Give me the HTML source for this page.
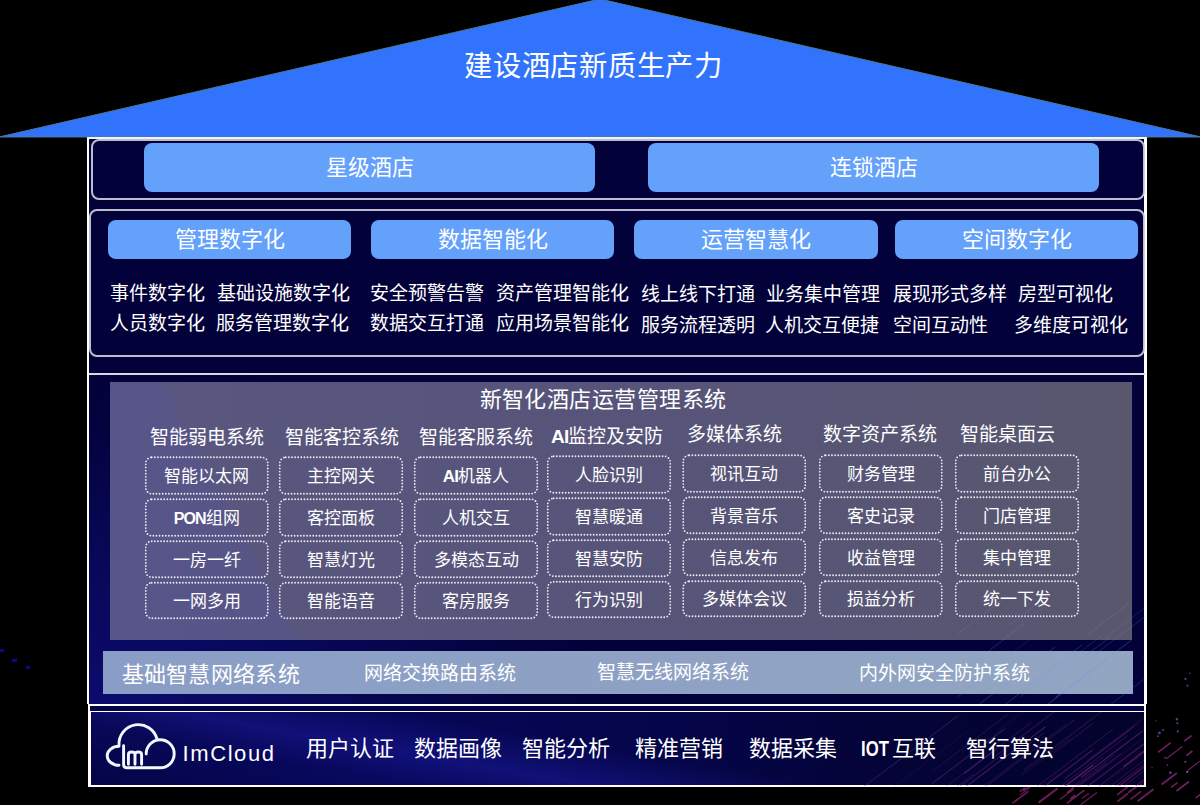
<!DOCTYPE html>
<html lang="zh-CN">
<head>
<meta charset="utf-8">
<style>
*{margin:0;padding:0;box-sizing:border-box}
html,body{width:1200px;height:805px;overflow:hidden;background:#000}
body{position:relative;font-family:"Liberation Sans",sans-serif;color:#fff;font-weight:300}
.a{position:absolute}
.t{position:absolute;white-space:nowrap;line-height:1}
.btn{position:absolute;background:#63a1fb;border-radius:8px;color:#fff;font-size:22px;text-align:center}
.box{position:absolute;border:2px solid rgba(205,205,220,0.92);border-radius:8px}
.dt{position:absolute;font-size:17px;text-align:center;line-height:19px;white-space:nowrap}
.hd{position:absolute;font-size:19px;white-space:nowrap;line-height:1}
.it{position:absolute;font-size:19px;white-space:nowrap;line-height:1}
</style>
</head>
<body>
<!-- roof -->
<svg class="a" style="left:0;top:0" width="1200" height="140">
<polygon points="-1,137 600,-1 1201,137" fill="#3173fd" stroke="#4a7a98" stroke-width="1"/>
</svg>
<div class="t" style="left:464px;top:52px;font-size:28.3px;letter-spacing:0.75px">建设酒店新质生产力</div>

<!-- main body -->
<div class="a" style="left:87px;top:137px;width:3px;height:567px;background:#fff"></div>
<div class="a" style="left:89px;top:138px;width:1056px;height:567px;background:#020139"></div>
<div class="a" style="left:89px;top:375px;width:1056px;height:330px;background:radial-gradient(ellipse 600px 380px at 0% 100%,rgba(12,12,112,0.95) 0%,rgba(10,10,100,0.7) 40%,rgba(6,6,70,0.3) 75%,rgba(3,2,50,0) 100%)"></div>
<div class="a" style="left:1144px;top:137px;width:2.5px;height:567px;background:#fff"></div>

<div class="a" style="left:87px;top:137px;width:1060px;height:2px;background:#f4f4f8"></div>
<!-- section 1 -->
<div class="box" style="left:91px;top:139px;width:1054px;height:61px"></div>
<div class="btn" style="left:144px;top:143px;width:451px;height:49px;line-height:49px">星级酒店</div>
<div class="btn" style="left:648px;top:143px;width:451px;height:49px;line-height:49px">连锁酒店</div>

<!-- section 2 -->
<div class="box" style="left:89px;top:209px;width:1056px;height:148px"></div>
<div class="btn" style="left:108px;top:220px;width:243px;height:39px;line-height:39px">管理数字化</div>
<div class="btn" style="left:371px;top:220px;width:243px;height:39px;line-height:39px">数据智能化</div>
<div class="btn" style="left:634px;top:220px;width:244px;height:39px;line-height:39px">运营智慧化</div>
<div class="btn" style="left:895px;top:220px;width:243px;height:39px;line-height:39px">空间数字化</div>

<div class="it" style="left:110px;top:284px">事件数字化</div>
<div class="it" style="left:217px;top:284px">基础设施数字化</div>
<div class="it" style="left:370px;top:284px">安全预警告警</div>
<div class="it" style="left:496px;top:284px">资产管理智能化</div>
<div class="it" style="left:641px;top:285px">线上线下打通</div>
<div class="it" style="left:766px;top:285px">业务集中管理</div>
<div class="it" style="left:893px;top:285px">展现形式多样</div>
<div class="it" style="left:1018px;top:285px">房型可视化</div>

<div class="it" style="left:110px;top:314px">人员数字化</div>
<div class="it" style="left:216px;top:314px">服务管理数字化</div>
<div class="it" style="left:370px;top:314px">数据交互打通</div>
<div class="it" style="left:496px;top:314px">应用场景智能化</div>
<div class="it" style="left:641px;top:316px">服务流程透明</div>
<div class="it" style="left:765px;top:316px">人机交互便捷</div>
<div class="it" style="left:893px;top:316px">空间互动性</div>
<div class="it" style="left:1014px;top:316px">多维度可视化</div>

<!-- section 3 -->
<div class="a" style="left:89px;top:373px;width:1056px;height:2px;background:#d8d8e0"></div>
<div class="a" style="left:110px;top:382px;width:1022px;height:258px;background:linear-gradient(90deg,#5a5780 0%,#57547a 50%,#58576e 100%)"></div>
<div class="a" style="left:110px;top:382px;width:1022px;height:258px;background:linear-gradient(62deg,rgba(70,70,210,0.10) 0%,rgba(70,70,210,0.10) 16%,rgba(70,70,210,0) 16.5%)"></div>
<div class="t" style="left:479.5px;top:389px;font-size:22px;letter-spacing:0.45px">新智化酒店运营管理系统</div>

<!-- base network -->
<div class="a" style="left:103px;top:651px;width:1030px;height:43px;background:linear-gradient(90deg,#8a9dc6,#8fa2c4 60%,#92a6c2)"></div>

<div class="hd" style="left:150px;top:428px">智能弱电系统</div>
<div class="dt" style="left:145px;top:467.0px;width:123.5px">智能以太网</div>
<div class="dt" style="left:145px;top:509.0px;width:123.5px"><b style="font-weight:700;font-size:16px;letter-spacing:-0.9px">PON</b>组网</div>
<div class="dt" style="left:145px;top:550.8px;width:123.5px">一房一纤</div>
<div class="dt" style="left:145px;top:592.0px;width:123.5px">一网多用</div>
<div class="hd" style="left:285px;top:428px">智能客控系统</div>
<div class="dt" style="left:279px;top:467.0px;width:124px">主控网关</div>
<div class="dt" style="left:279px;top:509.0px;width:124px">客控面板</div>
<div class="dt" style="left:279px;top:550.8px;width:124px">智慧灯光</div>
<div class="dt" style="left:279px;top:592.0px;width:124px">智能语音</div>
<div class="hd" style="left:419px;top:428px">智能客服系统</div>
<div class="dt" style="left:414px;top:467.0px;width:124px"><b style="font-weight:700;letter-spacing:-0.8px">AI</b>机器人</div>
<div class="dt" style="left:414px;top:509.0px;width:124px">人机交互</div>
<div class="dt" style="left:414px;top:550.8px;width:124px">多模态互动</div>
<div class="dt" style="left:414px;top:592.0px;width:124px">客房服务</div>
<div class="hd" style="left:551px;top:426.5px"><b style="font-weight:700;letter-spacing:-0.8px">AI</b>监控及安防</div>
<div class="dt" style="left:547px;top:466.0px;width:124px">人脸识别</div>
<div class="dt" style="left:547px;top:508.0px;width:124px">智慧暖通</div>
<div class="dt" style="left:547px;top:549.8px;width:124px">智慧安防</div>
<div class="dt" style="left:547px;top:591.0px;width:124px">行为识别</div>
<div class="hd" style="left:687px;top:425px">多媒体系统</div>
<div class="dt" style="left:682.5px;top:465.0px;width:123.5px">视讯互动</div>
<div class="dt" style="left:682.5px;top:506.8px;width:123.5px">背景音乐</div>
<div class="dt" style="left:682.5px;top:548.8px;width:123.5px">信息发布</div>
<div class="dt" style="left:682.5px;top:590.2px;width:123.5px">多媒体会议</div>
<div class="hd" style="left:823px;top:425px">数字资产系统</div>
<div class="dt" style="left:819px;top:465.0px;width:123.5px">财务管理</div>
<div class="dt" style="left:819px;top:506.8px;width:123.5px">客史记录</div>
<div class="dt" style="left:819px;top:548.8px;width:123.5px">收益管理</div>
<div class="dt" style="left:819px;top:590.2px;width:123.5px">损益分析</div>
<div class="hd" style="left:960px;top:425px">智能桌面云</div>
<div class="dt" style="left:955px;top:465.0px;width:124px">前台办公</div>
<div class="dt" style="left:955px;top:506.8px;width:124px">门店管理</div>
<div class="dt" style="left:955px;top:548.8px;width:124px">集中管理</div>
<div class="dt" style="left:955px;top:590.2px;width:124px">统一下发</div>
<svg class="a" style="left:0;top:0" width="1200" height="805" fill="none" stroke="#ececf4" stroke-width="1.8" stroke-dasharray="0.01 3.1" stroke-linecap="round">
<rect x="145.75" y="457.25" width="122.0" height="36.5" rx="6"/>
<rect x="145.75" y="499.25" width="122.0" height="36.5" rx="6"/>
<rect x="145.75" y="541.25" width="122.0" height="36.0" rx="6"/>
<rect x="145.75" y="582.75" width="122.0" height="35.5" rx="6"/>
<rect x="279.75" y="457.25" width="122.5" height="36.5" rx="6"/>
<rect x="279.75" y="499.25" width="122.5" height="36.5" rx="6"/>
<rect x="279.75" y="541.25" width="122.5" height="36.0" rx="6"/>
<rect x="279.75" y="582.75" width="122.5" height="35.5" rx="6"/>
<rect x="414.75" y="457.25" width="122.5" height="36.5" rx="6"/>
<rect x="414.75" y="499.25" width="122.5" height="36.5" rx="6"/>
<rect x="414.75" y="541.25" width="122.5" height="36.0" rx="6"/>
<rect x="414.75" y="582.75" width="122.5" height="35.5" rx="6"/>
<rect x="547.75" y="456.25" width="122.5" height="36.5" rx="6"/>
<rect x="547.75" y="498.25" width="122.5" height="36.5" rx="6"/>
<rect x="547.75" y="540.25" width="122.5" height="36.0" rx="6"/>
<rect x="547.75" y="581.75" width="122.5" height="35.5" rx="6"/>
<rect x="683.25" y="455.25" width="122.0" height="36.5" rx="6"/>
<rect x="683.25" y="497.25" width="122.0" height="36.0" rx="6"/>
<rect x="683.25" y="539.25" width="122.0" height="36.0" rx="6"/>
<rect x="683.25" y="581.25" width="122.0" height="35.0" rx="6"/>
<rect x="819.75" y="455.25" width="122.0" height="36.5" rx="6"/>
<rect x="819.75" y="497.25" width="122.0" height="36.0" rx="6"/>
<rect x="819.75" y="539.25" width="122.0" height="36.0" rx="6"/>
<rect x="819.75" y="581.25" width="122.0" height="35.0" rx="6"/>
<rect x="955.75" y="455.25" width="122.5" height="36.5" rx="6"/>
<rect x="955.75" y="497.25" width="122.5" height="36.0" rx="6"/>
<rect x="955.75" y="539.25" width="122.5" height="36.0" rx="6"/>
<rect x="955.75" y="581.25" width="122.5" height="35.0" rx="6"/>
</svg>
<div class="t" style="left:121.5px;top:664px;font-size:22px;letter-spacing:0.3px">基础智慧网络系统</div>
<div class="t" style="left:364px;top:664px;font-size:19px">网络交换路由系统</div>
<div class="t" style="left:597px;top:663px;font-size:19px">智慧无线网络系统</div>
<div class="t" style="left:859px;top:664px;font-size:19px">内外网安全防护系统</div>

<!-- bottom section -->
<div class="a" style="left:88px;top:704px;width:1058px;height:83px;background:#fff"></div>
<div class="a" style="left:90px;top:705.5px;width:1054px;height:5.5px;background:#04044a"></div>
<div class="a" style="left:91px;top:712px;width:1053px;height:73px;background:linear-gradient(190deg,rgba(0,0,0,0) 50%,rgba(40,40,200,0.32) 66%,rgba(20,20,150,0.15) 78%,rgba(0,0,0,0) 95%),linear-gradient(90deg,#05054a 0%,#060656 30%,#05054a 55%,#040438 75%,#03032c 100%)"></div>
<svg class="a" style="left:0;top:0" width="1200" height="805">
<defs><clipPath id="cb"><rect x="91" y="712" width="1053" height="74"/></clipPath><clipPath id="cu"><rect x="89" y="600" width="1056" height="104"/></clipPath><clipPath id="co"><path d="M0,0H1200V805H0Z M87,0H1147V787H87Z" clip-rule="evenodd"/></clipPath></defs>
<g clip-path="url(#cb)">
<line x1="1022.3" y1="815.0" x2="1127.4" y2="735.8" stroke="rgb(149,42,135)" stroke-width="0.83" opacity="0.40"/>
<line x1="1064.8" y1="778.7" x2="1133.7" y2="726.7" stroke="rgb(142,43,136)" stroke-width="0.94" opacity="0.52"/>
<line x1="963.8" y1="773.7" x2="995.7" y2="749.6" stroke="rgb(117,45,141)" stroke-width="1.07" opacity="0.48"/>
<line x1="898.9" y1="832.4" x2="1007.6" y2="750.5" stroke="rgb(127,44,139)" stroke-width="0.96" opacity="0.45"/>
<line x1="968.0" y1="753.4" x2="1038.4" y2="700.4" stroke="rgb(104,46,143)" stroke-width="0.54" opacity="0.28"/>
<line x1="995.5" y1="756.1" x2="1060.2" y2="707.3" stroke="rgb(113,46,142)" stroke-width="0.81" opacity="0.54"/>
<line x1="1053.4" y1="804.5" x2="1121.3" y2="753.4" stroke="rgb(154,42,134)" stroke-width="0.96" opacity="0.38"/>
<line x1="981.4" y1="833.9" x2="1092.8" y2="749.9" stroke="rgb(148,42,135)" stroke-width="1.09" opacity="0.48"/>
<line x1="1021.3" y1="775.0" x2="1070.7" y2="737.8" stroke="rgb(131,44,138)" stroke-width="0.55" opacity="0.51"/>
<line x1="1035.6" y1="808.7" x2="1093.5" y2="765.0" stroke="rgb(152,42,134)" stroke-width="1.17" opacity="0.54"/>
<line x1="854.1" y1="794.0" x2="958.0" y2="715.7" stroke="rgb(95,47,145)" stroke-width="0.83" opacity="0.59"/>
<line x1="1024.3" y1="769.9" x2="1103.5" y2="710.2" stroke="rgb(127,44,139)" stroke-width="1.04" opacity="0.31"/>
<line x1="922.4" y1="804.4" x2="1031.1" y2="722.6" stroke="rgb(117,45,141)" stroke-width="1.03" opacity="0.25"/>
<line x1="1014.4" y1="755.0" x2="1043.7" y2="733.0" stroke="rgb(120,45,140)" stroke-width="1.06" opacity="0.27"/>
<line x1="1074.1" y1="785.3" x2="1114.8" y2="754.7" stroke="rgb(151,42,135)" stroke-width="1.01" opacity="0.25"/>
<line x1="1078.1" y1="768.8" x2="1139.1" y2="722.9" stroke="rgb(141,43,136)" stroke-width="0.65" opacity="0.31"/>
<line x1="1130.9" y1="804.4" x2="1181.5" y2="766.2" stroke="rgb(175,40,130)" stroke-width="1.12" opacity="0.28"/>
<line x1="1023.1" y1="817.4" x2="1103.4" y2="756.8" stroke="rgb(152,42,134)" stroke-width="0.57" opacity="0.60"/>
<line x1="974.1" y1="793.2" x2="1066.0" y2="723.9" stroke="rgb(126,44,139)" stroke-width="0.73" opacity="0.32"/>
<line x1="932.9" y1="770.9" x2="1008.0" y2="714.2" stroke="rgb(104,46,143)" stroke-width="0.67" opacity="0.44"/>
<line x1="1004.4" y1="811.1" x2="1112.6" y2="729.5" stroke="rgb(142,43,136)" stroke-width="0.84" opacity="0.43"/>
<line x1="1123.3" y1="766.7" x2="1160.8" y2="738.4" stroke="rgb(153,42,134)" stroke-width="1.14" opacity="0.53"/>
<line x1="985.4" y1="786.7" x2="1074.3" y2="719.7" stroke="rgb(125,44,139)" stroke-width="1.16" opacity="0.28"/>
<line x1="1114.9" y1="817.1" x2="1191.9" y2="759.1" stroke="rgb(176,40,130)" stroke-width="0.80" opacity="0.24"/>
<line x1="928.7" y1="807.7" x2="973.6" y2="773.9" stroke="rgb(126,44,139)" stroke-width="0.99" opacity="0.30"/>
<line x1="1111.1" y1="795.8" x2="1160.8" y2="758.3" stroke="rgb(165,41,132)" stroke-width="0.62" opacity="0.49"/>
<line x1="931.6" y1="783.9" x2="1004.7" y2="728.8" stroke="rgb(111,46,142)" stroke-width="1.10" opacity="0.45"/>
<line x1="1016.7" y1="805.1" x2="1058.6" y2="773.5" stroke="rgb(147,42,135)" stroke-width="0.51" opacity="0.31"/>
<line x1="1053.9" y1="752.9" x2="1093.3" y2="723.2" stroke="rgb(128,44,139)" stroke-width="0.76" opacity="0.43"/>
<line x1="943.2" y1="803.8" x2="1045.4" y2="726.8" stroke="rgb(123,45,140)" stroke-width="1.19" opacity="0.46"/>
<line x1="1098.0" y1="790.2" x2="1134.3" y2="762.9" stroke="rgb(160,41,133)" stroke-width="0.52" opacity="0.21"/>
<line x1="1093.8" y1="822.3" x2="1202.3" y2="740.5" stroke="rgb(171,40,131)" stroke-width="0.51" opacity="0.45"/>
<line x1="1054.6" y1="802.1" x2="1106.5" y2="763.0" stroke="rgb(154,42,134)" stroke-width="1.20" opacity="0.23"/>
<line x1="1040.6" y1="821.6" x2="1143.7" y2="744.0" stroke="rgb(157,42,134)" stroke-width="1.02" opacity="0.48"/>
<line x1="1104.1" y1="809.9" x2="1159.0" y2="768.5" stroke="rgb(171,40,131)" stroke-width="0.98" opacity="0.56"/>
<line x1="1096.0" y1="803.6" x2="1189.4" y2="733.2" stroke="rgb(162,41,133)" stroke-width="1.10" opacity="0.43"/>
<line x1="1068.0" y1="794.8" x2="1143.1" y2="738.1" stroke="rgb(152,42,135)" stroke-width="0.93" opacity="0.23"/>
<line x1="1057.3" y1="829.9" x2="1158.5" y2="753.6" stroke="rgb(166,41,132)" stroke-width="1.01" opacity="0.36"/>
<line x1="1091.6" y1="800.0" x2="1154.2" y2="752.8" stroke="rgb(161,41,133)" stroke-width="1.09" opacity="0.23"/>
<line x1="1086.8" y1="760.6" x2="1163.6" y2="702.7" stroke="rgb(137,43,137)" stroke-width="0.84" opacity="0.29"/>
<line x1="1078.3" y1="801.9" x2="1156.2" y2="743.1" stroke="rgb(158,41,133)" stroke-width="1.14" opacity="0.30"/>
<line x1="885.9" y1="793.0" x2="969.4" y2="730.0" stroke="rgb(104,46,143)" stroke-width="0.64" opacity="0.27"/>
<line x1="1116.0" y1="803.4" x2="1178.8" y2="756.1" stroke="rgb(170,40,131)" stroke-width="1.12" opacity="0.33"/>
<line x1="1081.3" y1="777.2" x2="1143.1" y2="730.6" stroke="rgb(146,43,136)" stroke-width="1.06" opacity="0.57"/>
<line x1="1106.3" y1="794.9" x2="1181.5" y2="738.2" stroke="rgb(161,41,133)" stroke-width="0.72" opacity="0.25"/>
</g>
<g clip-path="url(#cu)">
<line x1="1030.3" y1="717.4" x2="1108.5" y2="658.4" stroke="rgb(120,150,230)" stroke-width="0.86" opacity="0.39"/>
<line x1="1003.4" y1="637.6" x2="1056.2" y2="597.9" stroke="rgb(120,150,230)" stroke-width="0.64" opacity="0.20"/>
<line x1="1026.8" y1="686.6" x2="1082.3" y2="644.8" stroke="rgb(120,150,230)" stroke-width="0.66" opacity="0.36"/>
<line x1="1142.4" y1="658.3" x2="1171.1" y2="636.7" stroke="rgb(120,150,230)" stroke-width="0.52" opacity="0.37"/>
<line x1="957.3" y1="697.2" x2="1017.7" y2="651.6" stroke="rgb(120,150,230)" stroke-width="0.65" opacity="0.35"/>
<line x1="956.9" y1="634.2" x2="1009.9" y2="594.3" stroke="rgb(120,150,230)" stroke-width="0.51" opacity="0.36"/>
<line x1="1009.3" y1="624.9" x2="1036.2" y2="604.6" stroke="rgb(120,150,230)" stroke-width="0.81" opacity="0.26"/>
<line x1="1055.6" y1="697.2" x2="1131.2" y2="640.3" stroke="rgb(120,150,230)" stroke-width="0.98" opacity="0.32"/>
<line x1="998.2" y1="663.2" x2="1033.6" y2="636.6" stroke="rgb(120,150,230)" stroke-width="0.51" opacity="0.27"/>
<line x1="1087.9" y1="634.4" x2="1129.2" y2="603.2" stroke="rgb(120,150,230)" stroke-width="0.67" opacity="0.32"/>
<line x1="1037.5" y1="691.7" x2="1109.8" y2="637.3" stroke="rgb(120,150,230)" stroke-width="0.70" opacity="0.35"/>
<line x1="1101.4" y1="640.6" x2="1184.9" y2="577.7" stroke="rgb(120,150,230)" stroke-width="0.86" opacity="0.18"/>
<line x1="1020.6" y1="696.6" x2="1102.7" y2="634.8" stroke="rgb(120,150,230)" stroke-width="0.69" opacity="0.29"/>
<line x1="1096.1" y1="715.4" x2="1180.4" y2="651.9" stroke="rgb(120,150,230)" stroke-width="0.73" opacity="0.31"/>
<line x1="978.8" y1="704.5" x2="1055.0" y2="647.1" stroke="rgb(120,150,230)" stroke-width="0.82" opacity="0.33"/>
<line x1="975.1" y1="727.1" x2="1061.7" y2="661.9" stroke="rgb(120,150,230)" stroke-width="0.99" opacity="0.28"/>
<line x1="1081.3" y1="664.6" x2="1163.4" y2="602.7" stroke="rgb(120,150,230)" stroke-width="0.93" opacity="0.24"/>
<line x1="965.3" y1="668.6" x2="1024.5" y2="624.0" stroke="rgb(120,150,230)" stroke-width="0.88" opacity="0.27"/>
</g>
<g clip-path="url(#co)">
<rect x="1151.4" y="767.1" width="1.3" height="1.3" fill="rgb(94,61,184)" opacity="0.8"/>
<rect x="1166.8" y="764.5" width="1.4" height="1.4" fill="rgb(109,83,207)" opacity="0.8"/>
<rect x="1186.2" y="770.8" width="2.1" height="2.1" fill="rgb(153,87,210)" opacity="0.8"/>
<rect x="1184.5" y="760.9" width="1.8" height="1.8" fill="rgb(127,85,190)" opacity="0.8"/>
<rect x="1158.2" y="731.7" width="2.4" height="2.4" fill="rgb(122,69,192)" opacity="0.8"/>
<rect x="1169.1" y="771.4" width="2.4" height="2.4" fill="rgb(116,69,204)" opacity="0.8"/>
<rect x="1157.1" y="735.4" width="1.6" height="1.6" fill="rgb(153,62,176)" opacity="0.8"/>
<rect x="1176.8" y="730.4" width="2.0" height="2.0" fill="rgb(93,84,152)" opacity="0.8"/>
<rect x="1175.8" y="718.1" width="2.2" height="2.2" fill="rgb(105,81,155)" opacity="0.8"/>
<rect x="1184.5" y="677.9" width="1.9" height="1.9" fill="rgb(142,75,167)" opacity="0.8"/>
<rect x="1162.3" y="729.2" width="1.6" height="1.6" fill="rgb(150,83,170)" opacity="0.8"/>
<rect x="1155.4" y="720.3" width="1.2" height="1.2" fill="rgb(123,58,194)" opacity="0.8"/>
<rect x="1189.0" y="672.7" width="1.5" height="1.5" fill="rgb(119,50,193)" opacity="0.8"/>
<rect x="1164.2" y="756.8" width="1.5" height="1.5" fill="rgb(153,56,181)" opacity="0.8"/>
<rect x="1186.5" y="684.7" width="1.9" height="1.9" fill="rgb(122,62,194)" opacity="0.8"/>
<rect x="1176.5" y="722.4" width="1.7" height="1.7" fill="rgb(142,83,189)" opacity="0.8"/>
<line x1="1158.0" y1="752.3" x2="1170.8" y2="742.6" stroke="rgb(150,40,130)" stroke-width="1.6" opacity="0.75"/>
<line x1="1176.5" y1="791.1" x2="1189.1" y2="781.6" stroke="rgb(150,40,130)" stroke-width="1.9" opacity="0.75"/>
<line x1="1161.6" y1="784.4" x2="1176.8" y2="773.0" stroke="rgb(150,40,130)" stroke-width="1.9" opacity="0.75"/>
<line x1="1165.8" y1="758.9" x2="1182.4" y2="746.4" stroke="rgb(150,40,130)" stroke-width="1.2" opacity="0.75"/>
<line x1="1199.9" y1="793.3" x2="1206.4" y2="788.4" stroke="rgb(150,40,130)" stroke-width="1.2" opacity="0.75"/>
<line x1="1186.3" y1="755.6" x2="1192.4" y2="751.0" stroke="rgb(150,40,130)" stroke-width="1.8" opacity="0.75"/>
<line x1="1171.1" y1="787.4" x2="1177.5" y2="782.6" stroke="rgb(150,40,130)" stroke-width="1.4" opacity="0.75"/>
<line x1="1184.3" y1="741.1" x2="1191.6" y2="735.5" stroke="rgb(150,40,130)" stroke-width="1.7" opacity="0.75"/>
<line x1="1195.6" y1="798.1" x2="1201.8" y2="793.4" stroke="rgb(150,40,130)" stroke-width="1.5" opacity="0.75"/>
<line x1="1187.9" y1="770.2" x2="1201.5" y2="760.0" stroke="rgb(150,40,130)" stroke-width="1.2" opacity="0.75"/>
<line x1="1019.9" y1="791.6" x2="1025.2" y2="787.6" stroke="rgb(140,35,120)" stroke-width="1.7" opacity="0.75"/>
<line x1="1082.1" y1="798.5" x2="1089.0" y2="793.3" stroke="rgb(140,35,120)" stroke-width="1.2" opacity="0.75"/>
<line x1="1038.5" y1="802.6" x2="1057.6" y2="788.3" stroke="rgb(140,35,120)" stroke-width="2.1" opacity="0.75"/>
<line x1="1023.3" y1="790.9" x2="1041.8" y2="777.0" stroke="rgb(140,35,120)" stroke-width="1.6" opacity="0.75"/>
<line x1="1117.1" y1="794.9" x2="1128.6" y2="786.2" stroke="rgb(140,35,120)" stroke-width="1.6" opacity="0.75"/>
<line x1="1070.2" y1="799.0" x2="1075.2" y2="795.3" stroke="rgb(140,35,120)" stroke-width="1.8" opacity="0.75"/>
<line x1="1128.2" y1="792.7" x2="1139.5" y2="784.2" stroke="rgb(140,35,120)" stroke-width="1.9" opacity="0.75"/>
<line x1="1066.7" y1="792.9" x2="1073.9" y2="787.5" stroke="rgb(140,35,120)" stroke-width="1.6" opacity="0.75"/>
<line x1="1012.2" y1="803.4" x2="1028.5" y2="791.1" stroke="rgb(140,35,120)" stroke-width="1.8" opacity="0.75"/>
<line x1="1130.5" y1="799.4" x2="1141.1" y2="791.4" stroke="rgb(140,35,120)" stroke-width="1.7" opacity="0.75"/>
<line x1="1080.6" y1="804.7" x2="1097.0" y2="792.4" stroke="rgb(140,35,120)" stroke-width="1.3" opacity="0.75"/>
<line x1="1137.6" y1="801.2" x2="1153.6" y2="789.1" stroke="rgb(140,35,120)" stroke-width="2.0" opacity="0.75"/>
<line x1="1066.8" y1="803.4" x2="1084.2" y2="790.3" stroke="rgb(140,35,120)" stroke-width="1.8" opacity="0.75"/>
<line x1="1117.4" y1="801.5" x2="1128.0" y2="793.5" stroke="rgb(140,35,120)" stroke-width="1.9" opacity="0.75"/>
<line x1="1019.9" y1="795.1" x2="1031.4" y2="786.4" stroke="rgb(140,35,120)" stroke-width="1.0" opacity="0.75"/>
<line x1="1059.8" y1="799.6" x2="1073.6" y2="789.2" stroke="rgb(140,35,120)" stroke-width="1.3" opacity="0.75"/>
<rect x="0" y="649" width="4" height="3" fill="#08088a"/><rect x="12" y="659" width="5" height="3" fill="#08088a"/><rect x="26" y="666" width="4" height="3" fill="#08088a"/>
</g>
</svg>
<svg class="a" style="left:102px;top:718px" width="80" height="56" fill="none" stroke="#f2f8ff" stroke-width="2.9" stroke-linecap="round">
<path d="M17,28.3 C10.5,28.3 5.2,32.6 5.2,37.8 C5.2,43 10.5,47.3 17,47.3"/>
<path d="M17,27 A19.35,19.35 0 0 1 55,20.9"/>
<path d="M44.2,36 A14,14 0 1 1 58.2,49.8 L25,49.8 Q21.6,49.8 21.6,46.5 L21.6,27.8"/>
<path d="M26.4,46.3 L26.4,36.5 Q26.4,34 29.7,34 Q33,34 33,36.5 L33,46.3 M33,36.5 Q33,34 36.3,34 Q39.6,34 39.6,36.5 L39.6,46.3"/>
</svg>

<div class="t" style="left:182.5px;top:742.5px;font-size:22px;letter-spacing:1.6px">ImCloud</div>
<div class="t" style="left:306px;top:738px;font-size:22px">用户认证</div>
<div class="t" style="left:414px;top:738px;font-size:22px">数据画像</div>
<div class="t" style="left:522px;top:738px;font-size:22px">智能分析</div>
<div class="t" style="left:635px;top:738px;font-size:22px">精准营销</div>
<div class="t" style="left:749px;top:738px;font-size:22px">数据采集</div>
<div class="t" style="left:861px;top:738px;font-size:22px"><span style="display:inline-block;transform:scaleX(0.76);transform-origin:0 0;width:31px;font-weight:bold">IOT</span>互联</div>
<div class="t" style="left:966px;top:738px;font-size:22px">智行算法</div>
</body>
</html>
